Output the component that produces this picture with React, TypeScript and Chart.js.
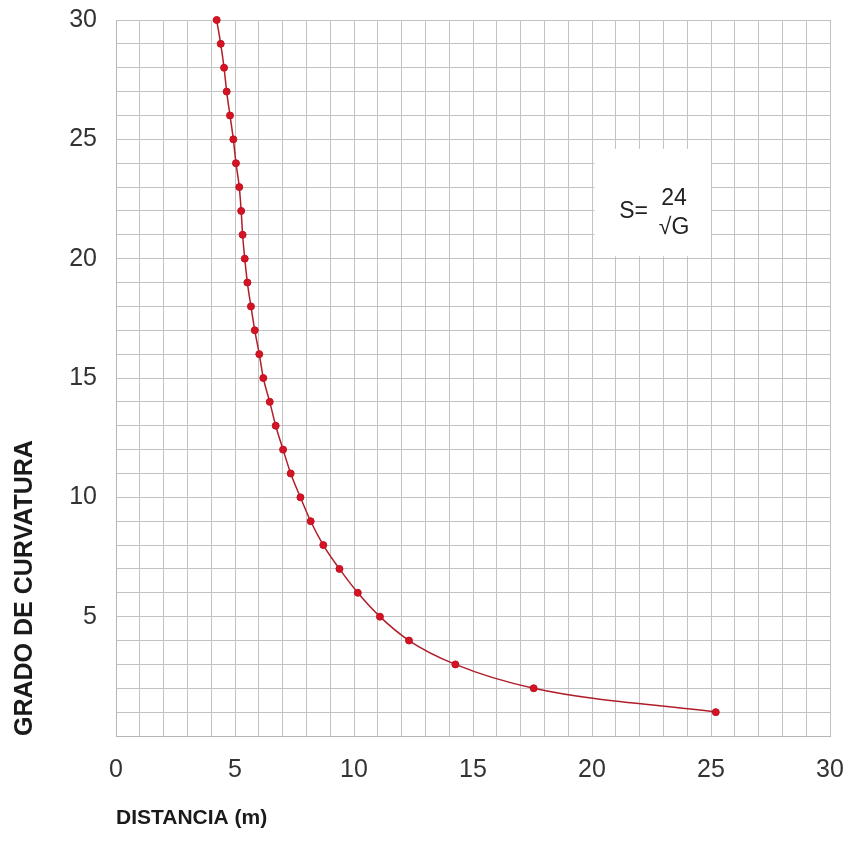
import React, { useEffect, useRef } from "react";
import { Chart, registerables } from "chart.js";

Chart.register(...registerables);

// Grado de curvatura (G) and distancia (m)
const grado = [1, 2, 3, 4, 5, 6, 7, 8, 9, 10, 11, 12, 13, 14, 15, 16, 17, 18, 19, 20, 21, 22, 23, 24, 25, 26, 27, 28, 29, 30];
const distancia = [25.2, 17.55, 14.26, 12.31, 11.09, 10.16, 9.39, 8.71, 8.18, 7.75, 7.34, 7.02, 6.71, 6.46, 6.19, 6.02, 5.83, 5.67, 5.52, 5.41, 5.32, 5.26, 5.18, 5.04, 4.93, 4.79, 4.65, 4.54, 4.4, 4.23];

const axisMin = 0;
const axisMax = 30;
const labelStep = 5;
const xTitle = "DISTANCIA (m)";
const yTitle = "GRADO DE CURVATURA";
const formulaLeft = "S=";
const formulaNum = "24";
const formulaDen = "√G";

const FONT = "'Liberation Sans', Arial, sans-serif";

const formulaPlugin = {
  id: "formulaBox",
  beforeDatasetsDraw(chart: any) {
    const { ctx, scales } = chart;
    const x = scales.x;
    const y = scales.y;
    const x1 = x.getPixelForValue(20.1);
    const x2 = x.getPixelForValue(25);
    const y1 = y.getPixelForValue(24.6);
    const y2 = y.getPixelForValue(20.1);
    ctx.save();
    ctx.fillStyle = "#ffffff";
    ctx.fillRect(x1, y1, x2 - x1, y2 - y1);
    ctx.fillStyle = "#222222";
    ctx.font = `23px ${FONT}`;
    ctx.textBaseline = "middle";
    ctx.textAlign = "center";
    ctx.fillText(formulaLeft, x.getPixelForValue(21.75), y.getPixelForValue(21.95));
    ctx.fillText(formulaNum, x.getPixelForValue(23.45), y.getPixelForValue(22.5));
    ctx.fillText(formulaDen, x.getPixelForValue(23.45), y.getPixelForValue(21.3));
    ctx.restore();
  },
};

const zeroPad = (s: any) => {
  s.paddingTop = 0;
  s.paddingBottom = 0;
  s.paddingLeft = 0;
  s.paddingRight = 0;
};

export default function App() {
  const ref = useRef<HTMLCanvasElement | null>(null);

  useEffect(() => {
    if (!ref.current) return;
    const points = grado.map((g, i) => ({ x: distancia[i], y: g }));
    const chart = new Chart(ref.current, {
      type: "line",
      data: {
        datasets: [
          {
            data: points,
            borderColor: "#b01e2a",
            borderWidth: 1.5,
            backgroundColor: "#d41424",
            pointBackgroundColor: "#d41424",
            pointBorderColor: "#c01020",
            pointRadius: 3.5,
            pointBorderWidth: 1,
            cubicInterpolationMode: "monotone",
            clip: false,
            fill: false,
          },
        ],
      },
      options: {
        animation: false,
        responsive: false,
        devicePixelRatio: 1,
        parsing: false,
        layout: { padding: { top: 20, right: 19, left: 0, bottom: 0 } },
        plugins: {
          legend: { display: false },
          tooltip: { enabled: false },
        },
        scales: {
          x: {
            type: "linear",
            min: axisMin,
            max: axisMax,
            afterFit: (s: any) => {
              s.height = 109;
              zeroPad(s);
            },
            ticks: {
              stepSize: 1,
              autoSkip: false,
              maxRotation: 0,
              padding: 19,
              color: "#333333",
              font: { family: FONT, size: 25 },
              callback: (v: any) => (Number(v) % labelStep === 0 ? String(v) : ""),
            },
            grid: { color: "#c2c2c2", lineWidth: 1, drawTicks: false },
            border: { color: "#b5b5b5" },
            title: {
              display: true,
              text: xTitle,
              align: "start",
              color: "#1a1a1a",
              font: { family: FONT, size: 21, weight: "bold" },
              padding: { top: 0, bottom: 14 },
            },
          },
          y: {
            type: "linear",
            min: axisMin,
            max: axisMax,
            afterFit: (s: any) => {
              s.width = 116;
              zeroPad(s);
            },
            ticks: {
              stepSize: 1,
              autoSkip: false,
              padding: 19,
              color: "#333333",
              font: { family: FONT, size: 25 },
              callback: (v: any) => (Number(v) % labelStep === 0 && Number(v) !== 0 ? String(v) : ""),
            },
            grid: { color: "#c2c2c2", lineWidth: 1, drawTicks: false },
            border: { color: "#b5b5b5" },
            title: {
              display: true,
              text: yTitle,
              align: "start",
              color: "#1a1a1a",
              font: { family: FONT, size: 25, weight: "bold" },
              padding: { top: 10, bottom: 0 },
            },
          },
        },
      },
      plugins: [formulaPlugin],
    });
    return () => chart.destroy();
  }, []);

  return (
    <div style={{ position: "fixed", left: 0, top: 0, width: 849, height: 845, background: "#ffffff" }}>
      <canvas ref={ref} width={849} height={845} />
    </div>
  );
}
